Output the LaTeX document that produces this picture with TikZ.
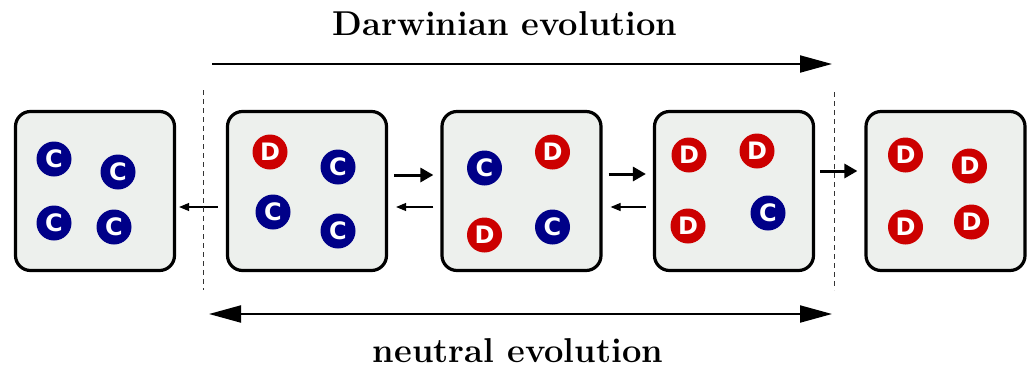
\documentclass[tikz,border=0pt]{standalone}
\usepackage{fontspec}
\newfontfamily\circfont{DejaVu Sans}
\usetikzlibrary{arrows.meta,calc}
\definecolor{boxfill}{HTML}{EDF0ED}
\definecolor{cblue}{HTML}{000088}
\definecolor{dred}{HTML}{CC0000}
\tikzset{
  x=1pt,y=-1pt,
  popbox/.style={draw=black,line width=3.2pt,fill=boxfill,rounded corners=15pt,minimum width=159pt,minimum height=159pt,inner sep=0pt},
  agent/.style={circle,minimum size=35pt,inner sep=0pt,text=white,font=\circfont\bfseries\fontsize{24}{24}\selectfont},
  coop/.style={agent,fill=cblue},
  defe/.style={agent,fill=dred},
  thickarr/.style={line width=3pt,-{Triangle[length=13pt,width=14pt]}},
  thinarr/.style={line width=1.2pt,-{Triangle[length=10pt,width=8pt]}},
  bigarr/.style={line width=2pt,-{Triangle[length=32pt,width=17pt]}},
  bigdarr/.style={line width=2pt,{Triangle[length=32pt,width=17pt]}-{Triangle[length=32pt,width=17pt]}},
  divider/.style={dashed,line width=1pt,dash pattern=on 5pt off 4pt,black!80},
  title/.style={font=\bfseries\fontsize{34.5}{34.5}\selectfont}
}
\begin{document}
\begin{tikzpicture}
\useasboundingbox (0,0) rectangle (1028,367);
% boxes
\node[popbox] (b1) at (95,191) {};
\node[popbox] (b2) at (307,191) {};
\node[popbox] (b3) at (521.5,191) {};
\node[popbox] (b4) at (734,191) {};
\node[popbox] (b5) at (945.5,191) {};
% box 1
\node[coop] (a11) at ($(b1)+(-41,-32)$) {C};
\node[coop] (a12) at ($(b1)+(23,-19)$) {C};
\node[coop] (a13) at ($(b1)+(-41,32)$) {C};
\node[coop] (a14) at ($(b1)+(19,36)$) {C};
% box 2
\node[defe] (a21) at ($(b2)+(-37,-39)$) {D};
\node[coop] (a22) at ($(b2)+(31,-24)$) {C};
\node[coop] (a23) at ($(b2)+(-34,21)$) {C};
\node[coop] (a24) at ($(b2)+(31,40)$) {C};
% box 3
\node[coop] (a31) at ($(b3)+(-37,-23)$) {C};
\node[defe] (a32) at ($(b3)+(31,-39)$) {D};
\node[defe] (a33) at ($(b3)+(-37,44)$) {D};
\node[coop] (a34) at ($(b3)+(31,36)$) {C};
% box 4
\node[defe] (a41) at ($(b4)+(-45,-36)$) {D};
\node[defe] (a42) at ($(b4)+(23,-40)$) {D};
\node[defe] (a43) at ($(b4)+(-46,35)$) {D};
\node[coop] (a44) at ($(b4)+(34,22)$) {C};
% box 5
\node[defe] (a51) at ($(b5)+(-40,-36)$) {D};
\node[defe] (a52) at ($(b5)+(24,-25)$) {D};
\node[defe] (a53) at ($(b5)+(-40,36)$) {D};
\node[defe] (a54) at ($(b5)+(26,31)$) {D};
% transitions
\draw[thinarr] ([xshift=-8pt,yshift=-16pt]b2.west) -- ([xshift=3pt,yshift=-16pt]b1.east);
\draw[thickarr] ([xshift=6pt,yshift=16pt]b2.east) -- ([xshift=-7pt,yshift=16pt]b3.west);
\draw[thinarr] ([xshift=-7pt,yshift=-16pt]b3.west) -- ([xshift=8pt,yshift=-16pt]b2.east);
\draw[thickarr] ([xshift=6pt,yshift=17pt]b3.east) -- ([xshift=-7pt,yshift=17pt]b4.west);
\draw[thinarr] ([xshift=-7pt,yshift=-16pt]b4.west) -- ([xshift=8pt,yshift=-16pt]b3.east);
\draw[thickarr] ([xshift=5pt,yshift=20pt]b4.east) -- ([xshift=-7pt,yshift=20pt]b5.west);
% dividers
\coordinate (d1t) at (203,90);
\coordinate (d1b) at (203,290);
\coordinate (d2t) at (834,92);
\coordinate (d2b) at (834,290);
\draw[divider] (d1t) -- (d1b);
\draw[divider] (d2t) -- (d2b);
% evolution arrows
\coordinate (ts) at (212,64);
\coordinate (te) at (832,64);
\coordinate (bs) at (209,314);
\coordinate (be) at (832,314);
\draw[bigarr] (ts) -- (te);
\draw[bigdarr] (bs) -- (be);
\node[title,anchor=base] (dt) at (505,35) {Darwinian evolution};
\node[title,anchor=base] (nt) at (518,362) {neutral evolution};
\end{tikzpicture}
\end{document}
